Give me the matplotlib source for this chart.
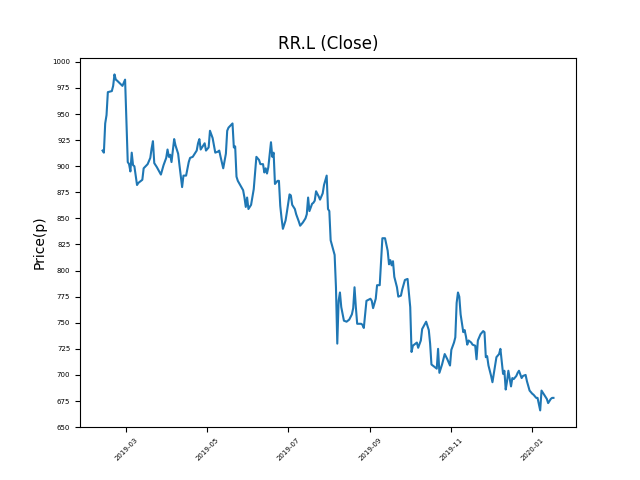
import matplotlib
matplotlib.use("Agg")
import matplotlib.pyplot as plt
import matplotlib.ticker as mticker
import pandas as pd

# RR.L close prices (pence)
dates = [
    "2019-02-11", "2019-02-12", "2019-02-13", "2019-02-14", "2019-02-15",
    "2019-02-18", "2019-02-19", "2019-02-20", "2019-02-21", "2019-02-22",
    "2019-02-26", "2019-02-28", "2019-03-02", "2019-03-03", "2019-03-04",
    "2019-03-05", "2019-03-06", "2019-03-07", "2019-03-09", "2019-03-10",
    "2019-03-13", "2019-03-14", "2019-03-17", "2019-03-19", "2019-03-20",
    "2019-03-21", "2019-03-22", "2019-03-24", "2019-03-27", "2019-03-29",
    "2019-03-31", "2019-04-01", "2019-04-02", "2019-04-03", "2019-04-04",
    "2019-04-06", "2019-04-07", "2019-04-09", "2019-04-10", "2019-04-12",
    "2019-04-13", "2019-04-15", "2019-04-17", "2019-04-18", "2019-04-20",
    "2019-04-23", "2019-04-24", "2019-04-25", "2019-04-26", "2019-04-28",
    "2019-04-29", "2019-04-30", "2019-05-02", "2019-05-03", "2019-05-05",
    "2019-05-07", "2019-05-09", "2019-05-10", "2019-05-11", "2019-05-13",
    "2019-05-15", "2019-05-16", "2019-05-17", "2019-05-20", "2019-05-21",
    "2019-05-22", "2019-05-23", "2019-05-24", "2019-05-28", "2019-05-29",
    "2019-05-30", "2019-05-31", "2019-06-01", "2019-06-03", "2019-06-05",
    "2019-06-07", "2019-06-09", "2019-06-10", "2019-06-12", "2019-06-13",
    "2019-06-14", "2019-06-15", "2019-06-16", "2019-06-18", "2019-06-19",
    "2019-06-20", "2019-06-21", "2019-06-23", "2019-06-24", "2019-06-25",
    "2019-06-26", "2019-06-27", "2019-06-29", "2019-06-30", "2019-07-02",
    "2019-07-03", "2019-07-04", "2019-07-06", "2019-07-07", "2019-07-09",
    "2019-07-10", "2019-07-12", "2019-07-14", "2019-07-15", "2019-07-16",
    "2019-07-17", "2019-07-19", "2019-07-20", "2019-07-21", "2019-07-22",
    "2019-07-24", "2019-07-25", "2019-07-27", "2019-07-28", "2019-07-30",
    "2019-07-31", "2019-08-01", "2019-08-02", "2019-08-05", "2019-08-06",
    "2019-08-07", "2019-08-08", "2019-08-09", "2019-08-10", "2019-08-12",
    "2019-08-14", "2019-08-16", "2019-08-18", "2019-08-19", "2019-08-20",
    "2019-08-21", "2019-08-22", "2019-08-25", "2019-08-26", "2019-08-27",
    "2019-08-29", "2019-09-01", "2019-09-02", "2019-09-03", "2019-09-05",
    "2019-09-06", "2019-09-08", "2019-09-10", "2019-09-12", "2019-09-14",
    "2019-09-15", "2019-09-16", "2019-09-17", "2019-09-18", "2019-09-19",
    "2019-09-21", "2019-09-22", "2019-09-24", "2019-09-25", "2019-09-27",
    "2019-09-29", "2019-10-01", "2019-10-02", "2019-10-03", "2019-10-05",
    "2019-10-06", "2019-10-07", "2019-10-09", "2019-10-10", "2019-10-13",
    "2019-10-15", "2019-10-16", "2019-10-17", "2019-10-19", "2019-10-21",
    "2019-10-22", "2019-10-23", "2019-10-25", "2019-10-27", "2019-10-29",
    "2019-10-31", "2019-11-01", "2019-11-03", "2019-11-04", "2019-11-05",
    "2019-11-06", "2019-11-07", "2019-11-08", "2019-11-10", "2019-11-11",
    "2019-11-12", "2019-11-13", "2019-11-14", "2019-11-16", "2019-11-17",
    "2019-11-19", "2019-11-20", "2019-11-21", "2019-11-23", "2019-11-25",
    "2019-11-26", "2019-11-27", "2019-11-28", "2019-11-29", "2019-12-01",
    "2019-12-02", "2019-12-03", "2019-12-05", "2019-12-07", "2019-12-08",
    "2019-12-10", "2019-12-11", "2019-12-12", "2019-12-13", "2019-12-14",
    "2019-12-16", "2019-12-17", "2019-12-18", "2019-12-20", "2019-12-21",
    "2019-12-22", "2019-12-24", "2019-12-25", "2019-12-27", "2019-12-28",
    "2019-12-30", "2020-01-01", "2020-01-02", "2020-01-04", "2020-01-05",
    "2020-01-06", "2020-01-07", "2020-01-08", "2020-01-10", "2020-01-12",
    "2020-01-13", "2020-01-15", "2020-01-16", "2020-01-17",
]
close = [
    915, 913, 941, 949, 971,
    972, 977, 988, 983, 982,
    977, 983, 904, 902, 895,
    913, 901, 900, 882, 884,
    887, 898, 902, 908, 917,
    924, 903, 899, 892, 901,
    908, 916, 909, 911, 904,
    926, 920, 912, 901, 880,
    891, 891, 904, 908, 909,
    915, 922, 926, 916, 920,
    922, 915, 918, 934, 927,
    913, 914, 915, 909, 898,
    912, 934, 937, 941, 918,
    919, 890, 886, 877, 870,
    861, 870, 859, 863, 878,
    909, 906, 902, 902, 894,
    898, 893, 899, 923, 909,
    913, 883, 886, 886, 862,
    850, 840, 848, 856, 873,
    872, 863, 859, 854, 847,
    843, 846, 850, 854, 870,
    857, 864, 865, 867, 876,
    871, 868, 874, 882, 891,
    859, 857, 829, 815, 784,
    730, 771, 779, 765, 752,
    751, 753, 758, 764, 784,
    765, 749, 749, 748, 745,
    771, 773, 771, 764, 773,
    786, 786, 831, 831, 819,
    806, 810, 805, 809, 794,
    784, 775, 776, 782, 791,
    792, 765, 722, 728, 730,
    731, 726, 733, 744, 751,
    743, 730, 710, 708, 706,
    725, 702, 710, 720, 715,
    709, 724, 731, 736, 769,
    779, 775, 758, 741, 743,
    737, 729, 733, 731, 729,
    728, 715, 733, 739, 742,
    741, 717, 718, 709, 699,
    693, 701, 717, 720, 725,
    701, 704, 686, 694, 704,
    689, 697, 696, 699, 702,
    704, 697, 699, 700, 694,
    685, 682, 681, 678, 678,
    672, 666, 685, 681, 677,
    673, 677, 678, 678,
]

df = pd.DataFrame({"Date": pd.to_datetime(dates), "Close": close})

fig, ax = plt.subplots(figsize=(6.4, 4.8), dpi=100)
ax.plot(df["Date"], df["Close"], color="#1f77b4", linewidth=1.5)
ax.set_title("RR.L (Close)", fontsize=12)
ax.set_ylabel("Price(p)", fontsize=10)
ax.yaxis.set_major_locator(mticker.MultipleLocator(25))
ax.tick_params(axis="both", labelsize=5)
plt.setp(ax.get_xticklabels(), rotation=45)

fig.savefig("out.png", dpi=100)
